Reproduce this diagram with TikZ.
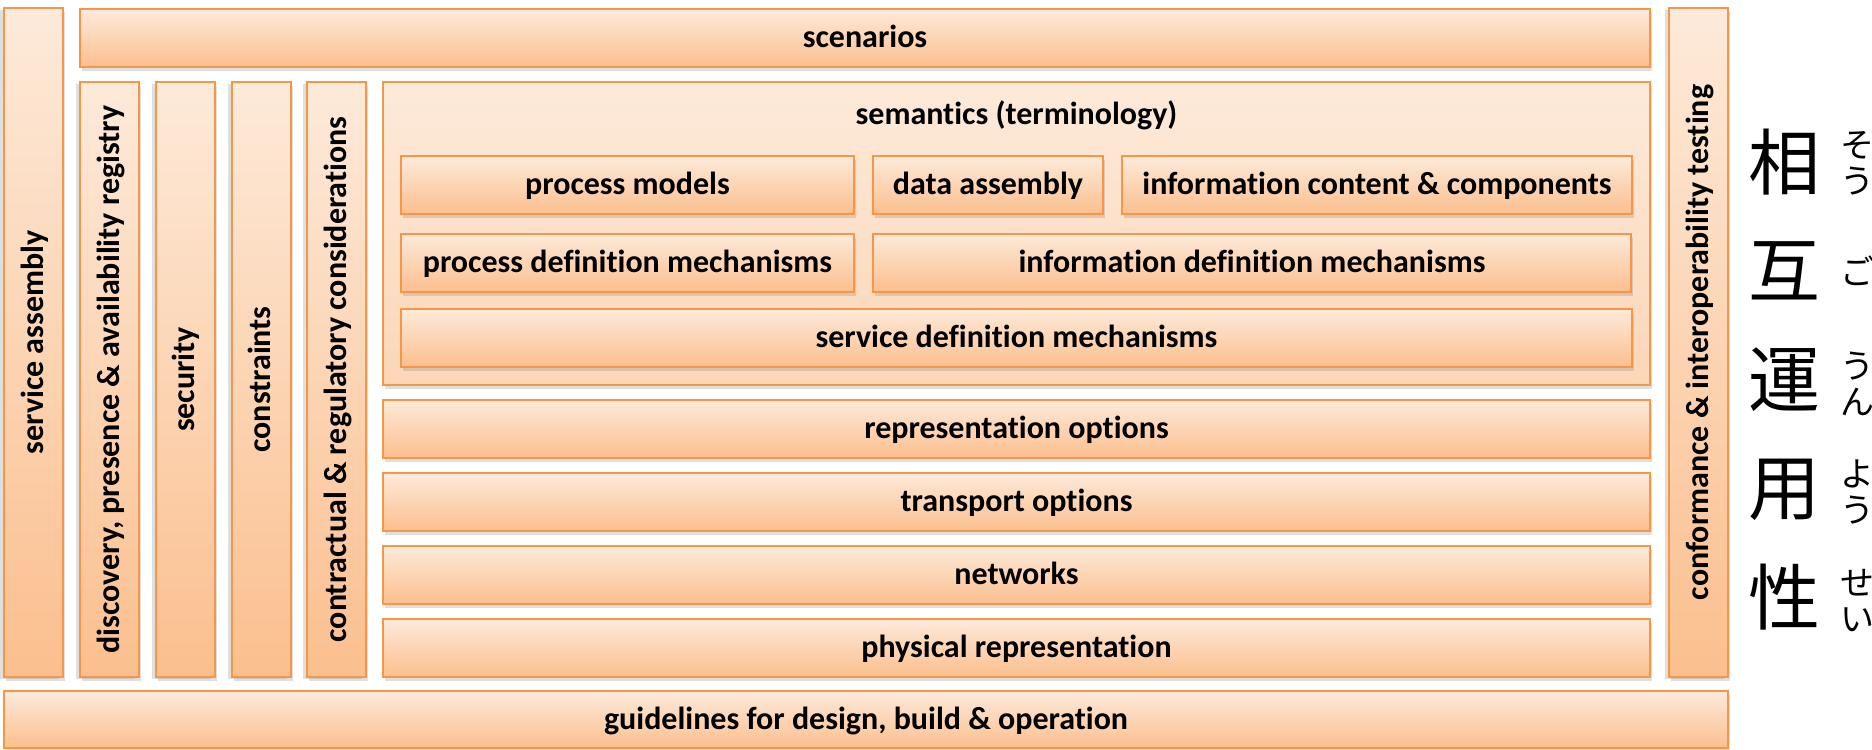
\documentclass[tikz,border=0pt]{standalone}
\usepackage{fontspec}
\setmainfont{Carlito}[Ligatures={NoCommon}]
\newfontfamily\jpfont{Noto Sans CJK JP}
\usepackage{xcolor}
\usepackage{tikz}
\usetikzlibrary{positioning,shadows}

\definecolor{peachlight}{RGB}{253,234,218}
\definecolor{peachdark}{RGB}{251,191,142}
\definecolor{peachmid}{RGB}{252,214,183}
\definecolor{orangeline}{RGB}{247,150,70}

\begin{document}
\begin{tikzpicture}[
    x=0.5pt, y=-0.5pt,
    layer/.style={rectangle, draw=orangeline, line width=1pt, top color=peachlight, bottom color=peachdark, inner sep=0pt, text height=12pt, text depth=2.5pt, font=\fontsize{16}{19}\selectfont\bfseries, drop shadow={shadow xshift=1pt, shadow yshift=-2pt, opacity=0.25}},
    hlayer/.style={layer, minimum height=29pt},
    vlayer/.style={layer, rotate=90, minimum height=29.5pt, drop shadow={shadow xshift=-2pt, shadow yshift=-1pt, opacity=0.25}},
    kanji/.style={font=\jpfont\fontsize{36}{36}\selectfont, inner sep=0pt},
    ruby/.style={font=\jpfont\fontsize{17}{18}\selectfont, inner sep=0pt, align=center},
]
\useasboundingbox (0,0) rectangle (1872,749);

% Columns on the sides
\node[vlayer, minimum width=334.5pt] (assembly) at (33.5,342.5) {service assembly};
\node[vlayer, minimum width=334.5pt] (conformance) at (1698.5,342.5) {conformance \& interoperability testing};

% Top and bottom bars
\node[hlayer, minimum width=785pt] (scenarios) at (865,38) {scenarios};
\node[hlayer, minimum width=862pt, minimum height=28.5pt] (guidelines) at (866,719.5) {guidelines for design, build \& operation};

% Cross-cutting columns
\node[vlayer, minimum width=297.5pt] (discovery) at (109.5,379.5) {discovery, presence \& availability registry};
\node[vlayer, minimum width=297.5pt] (security) at (185,379.5) {security};
\node[vlayer, minimum width=297.5pt] (constraints) at (261,379.5) {constraints};
\node[vlayer, minimum width=297.5pt] (contractual) at (336.5,379.5) {contractual \& regulatory considerations};

% Semantics block
\node[layer, bottom color=peachmid, minimum width=633.5pt, minimum height=151.5pt] (semantics) at (1016.5,233.5) {};
\node[font=\fontsize{16}{19}\selectfont\bfseries, text height=12pt, text depth=2.5pt] (semtitle) at (1016.5,115) {semantics (terminology)};

\node[hlayer, minimum width=226.5pt] (procmodels) at (627.5,185) {process models};
\node[hlayer, minimum width=115pt] (dataassembly) at (988,185) {data assembly};
\node[hlayer, minimum width=255pt] (infocontent) at (1377,185) {information content \& components};
\node[hlayer, minimum width=226.5pt] (procdef) at (627.5,262.5) {process definition mechanisms};
\node[hlayer, minimum width=379pt] (infodef) at (1252,262.5) {information definition mechanisms};
\node[hlayer, minimum width=615.5pt] (servicedef) at (1016.5,338) {service definition mechanisms};

% Stack below semantics
\node[hlayer, minimum width=633.5pt] (representation) at (1016.5,428.5) {representation options};
\node[hlayer, minimum width=633.5pt] (transport) at (1016.5,502) {transport options};
\node[hlayer, minimum width=633.5pt] (networks) at (1016.5,575) {networks};
\node[hlayer, minimum width=633.5pt] (physical) at (1016.5,647.5) {physical representation};

% Japanese label with readings
\node[kanji] (sou) at (1784,162) {相};
\node[kanji] (go) at (1784,271) {互};
\node[kanji] (un) at (1784,380) {運};
\node[kanji] (you) at (1784,490) {用};
\node[kanji] (sei) at (1784,597) {性};
\node[ruby] (soukana) at (1857,163) {そ\\う};
\node[ruby] (gokana) at (1857,271) {ご};
\node[ruby] (unkana) at (1857,384) {う\\ん};
\node[ruby] (youkana) at (1857,492) {よ\\う};
\node[ruby] (seikana) at (1857,601) {せ\\い};

\end{tikzpicture}
\end{document}
